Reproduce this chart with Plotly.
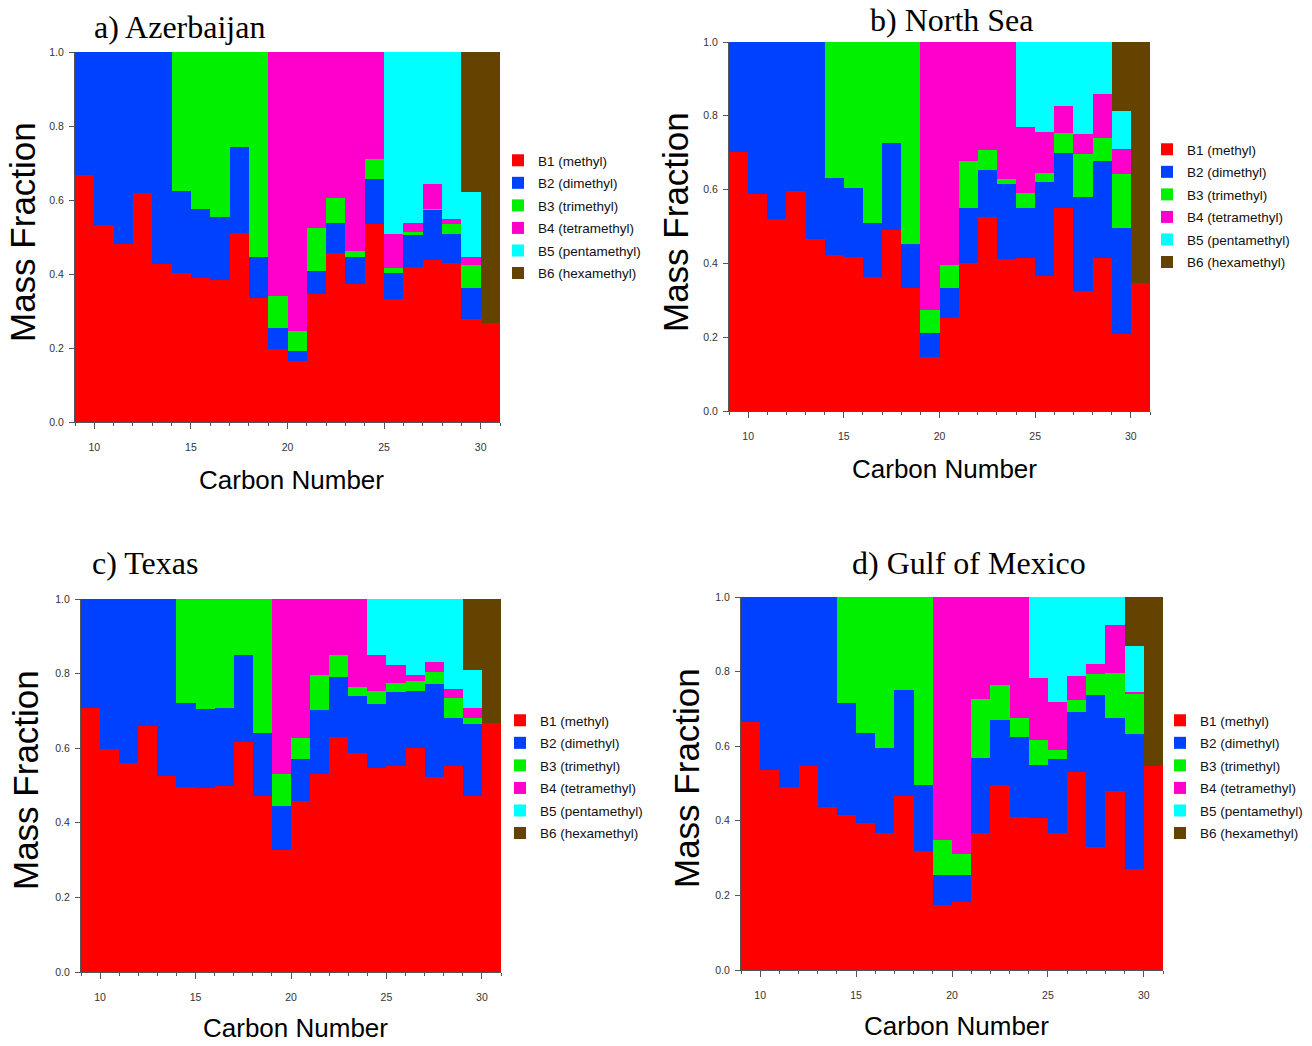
import plotly.graph_objects as go

# ---------------- data ----------------
carbon_number = list(range(10, 32))
series_names = ["B1 (methyl)", "B2 (dimethyl)", "B3 (trimethyl)",
                "B4 (tetramethyl)", "B5 (pentamethyl)", "B6 (hexamethyl)"]
series_colors = ["#FF0000", "#0040FF", "#00F000", "#FF00CC", "#00FFFF", "#644200"]
panel_titles = ["a) Azerbaijan", "b) North Sea", "c) Texas", "d) Gulf of Mexico"]
x_title = "Carbon Number"
y_title = "Mass Fraction"

# a) Azerbaijan
az_b1 = [.667, .532, .481, .620, .427, .402, .390, .384, .510, .335, .197, .165, .346, .456, .373, .535, .332, .420, .438, .429, .278, .267]
az_b2 = [.333, .468, .519, .380, .573, .222, .186, .170, .232, .112, .056, .027, .062, .081, .072, .123, .070, .085, .135, .079, .084, 0]
az_b3 = [0, 0, 0, 0, 0, .376, .424, .446, .258, .553, .088, .054, .117, .069, .018, .052, .013, .009, .004, .026, .061, 0]
az_b4 = [0, 0, 0, 0, 0, 0, 0, 0, 0, 0, .659, .754, .475, .394, .537, .290, .092, .023, .066, .016, .024, 0]
az_b5 = [0, 0, 0, 0, 0, 0, 0, 0, 0, 0, 0, 0, 0, 0, 0, 0, .493, .463, .357, .450, .175, 0]
az_b6 = [0, 0, 0, 0, 0, 0, 0, 0, 0, 0, 0, 0, 0, 0, 0, 0, 0, 0, 0, 0, .378, .733]

# b) North Sea
ns_b1 = [.702, .588, .520, .596, .465, .424, .418, .364, .490, .332, .147, .251, .400, .526, .412, .416, .366, .549, .326, .415, .210, .346]
ns_b2 = [.298, .412, .480, .404, .535, .208, .185, .146, .235, .120, .065, .083, .149, .127, .203, .135, .255, .149, .254, .262, .285, 0]
ns_b3 = [0, 0, 0, 0, 0, .368, .397, .490, .275, .548, .063, .063, .128, .055, .015, .040, .024, .056, .116, .064, .146, 0]
ns_b4 = [0, 0, 0, 0, 0, 0, 0, 0, 0, 0, .725, .603, .323, .292, .370, .179, .111, .072, .054, .119, .068, 0]
ns_b5 = [0, 0, 0, 0, 0, 0, 0, 0, 0, 0, 0, 0, 0, 0, 0, .230, .244, .174, .250, .140, .103, 0]
ns_b6 = [0, 0, 0, 0, 0, 0, 0, 0, 0, 0, 0, 0, 0, 0, 0, 0, 0, 0, 0, 0, .188, .654]

# c) Texas
tx_b1 = [.709, .598, .560, .660, .526, .495, .494, .499, .616, .473, .327, .458, .530, .629, .586, .546, .553, .600, .524, .551, .473, .667]
tx_b2 = [.291, .402, .440, .340, .474, .226, .211, .208, .234, .167, .119, .113, .173, .161, .154, .173, .199, .154, .248, .131, .191, 0]
tx_b3 = [0, 0, 0, 0, 0, .279, .295, .293, .150, .360, .084, .056, .094, .059, .024, .035, .022, .025, .032, .052, .018, 0]
tx_b4 = [0, 0, 0, 0, 0, 0, 0, 0, 0, 0, .470, .373, .203, .151, .236, .097, .050, .016, .027, .025, .025, 0]
tx_b5 = [0, 0, 0, 0, 0, 0, 0, 0, 0, 0, 0, 0, 0, 0, 0, .149, .176, .205, .169, .241, .103, 0]
tx_b6 = [0, 0, 0, 0, 0, 0, 0, 0, 0, 0, 0, 0, 0, 0, 0, 0, 0, 0, 0, 0, .190, .333]

# d) Gulf of Mexico
gm_b1 = [.664, .535, .490, .547, .436, .416, .394, .367, .467, .320, .173, .181, .367, .496, .410, .407, .367, .530, .329, .481, .270, .547]
gm_b2 = [.336, .465, .510, .453, .564, .301, .241, .228, .283, .175, .082, .074, .201, .175, .216, .143, .199, .161, .407, .194, .362, 0]
gm_b3 = [0, 0, 0, 0, 0, .283, .365, .405, .250, .505, .094, .055, .159, .094, .049, .067, .024, .034, .057, .121, .110, 0]
gm_b4 = [0, 0, 0, 0, 0, 0, 0, 0, 0, 0, .651, .690, .273, .235, .325, .167, .128, .062, .027, .130, .003, 0]
gm_b5 = [0, 0, 0, 0, 0, 0, 0, 0, 0, 0, 0, 0, 0, 0, 0, .216, .282, .213, .180, .074, .124, 0]
gm_b6 = [0, 0, 0, 0, 0, 0, 0, 0, 0, 0, 0, 0, 0, 0, 0, 0, 0, 0, 0, 0, .131, .453]

panel_data = [
    [az_b1, az_b2, az_b3, az_b4, az_b5, az_b6],
    [ns_b1, ns_b2, ns_b3, ns_b4, ns_b5, ns_b6],
    [tx_b1, tx_b2, tx_b3, tx_b4, tx_b5, tx_b6],
    [gm_b1, gm_b2, gm_b3, gm_b4, gm_b5, gm_b6],
]

# ---------------- layout geometry (pixels of the 1312x1046 page) ----------------
W, H = 1312, 1046
plot_boxes = [(75, 500, 52, 422), (729, 1150, 42, 411), (81, 501, 599, 972), (741, 1163, 597, 970)]
title_pos = [(92, 27), (868, 20), (90, 563), (850, 563)]
ylab_pos = [(22, 232), (675, 222), (25, 780), (686, 778)]
xlab_pos = [(291, 480), (944, 469), (295, 1028), (956, 1026)]
legend_pos = [(498, 145), (1147, 134), (500, 705), (1160, 705)]

SANS = "Liberation Sans, Arial, sans-serif"
SERIF = "Liberation Serif, Times New Roman, serif"


def px_x(p):
    return p / W


def px_y(p):
    return 1 - p / H


fig = go.Figure()
layout = dict(
    width=W, height=H,
    margin=dict(l=0, r=0, t=0, b=0, pad=0, autoexpand=False),
    paper_bgcolor="white", plot_bgcolor="white",
    barmode="stack", bargap=0, showlegend=True,
)
annotations = []

for i, series in enumerate(panel_data):
    sfx = "" if i == 0 else str(i + 1)
    legend_name = "legend" + sfx
    for name, vals, col in zip(series_names, series, series_colors):
        fig.add_trace(go.Bar(
            x=carbon_number, y=vals, name=name,
            marker=dict(color=col, line=dict(width=0)),
            width=1, offset=-1,
            xaxis="x" + sfx, yaxis="y" + sfx,
            legend=legend_name, legendgroup=name + sfx, showlegend=True,
        ))
    x0, x1, y0, y1 = plot_boxes[i]
    layout["xaxis" + sfx] = dict(
        domain=[px_x(x0), px_x(x1)], anchor="y" + sfx,
        range=[9, 31], tick0=10, dtick=5, ticks="outside", ticklen=6,
        tickcolor="#555", tickwidth=1, showline=True, linecolor="#555", linewidth=1,
        showgrid=False, zeroline=False, ticklabelstandoff=9,
        tickfont=dict(family=SANS, size=10.5, color="#333"),
        minor=dict(tick0=9, dtick=1, ticks="outside", ticklen=3, tickcolor="#555", showgrid=False),
        fixedrange=True,
    )
    layout["yaxis" + sfx] = dict(
        domain=[px_y(y1), px_y(y0)], anchor="x" + sfx,
        range=[0, 1], tick0=0, dtick=0.2, tickformat=".1f", ticks="outside", ticklen=5,
        tickcolor="#555", tickwidth=1, showline=True, linecolor="#555", linewidth=1,
        showgrid=False, zeroline=False, ticklabelstandoff=3,
        tickfont=dict(family=SANS, size=10.5, color="#333"),
        fixedrange=True,
    )
    lx, ly = legend_pos[i]
    layout[legend_name] = dict(
        x=px_x(lx), y=px_y(ly), xanchor="left", yanchor="top",
        xref="paper", yref="paper", traceorder="grouped",
        font=dict(family=SANS, size=13.5, color="#111"),
        bgcolor="rgba(0,0,0,0)", borderwidth=0, tracegroupgap=2,
    )
    tx, ty = title_pos[i]
    annotations.append(dict(text=panel_titles[i], x=px_x(tx), y=px_y(ty), xref="paper", yref="paper",
                            xanchor="left", yanchor="middle", showarrow=False,
                            font=dict(family=SERIF, size=32, color="black")))
    yx, yy = ylab_pos[i]
    annotations.append(dict(text=y_title, x=px_x(yx), y=px_y(yy), xref="paper", yref="paper",
                            xanchor="center", yanchor="middle", showarrow=False, textangle=-90,
                            font=dict(family=SANS, size=35, color="black")))
    xx, xy = xlab_pos[i]
    annotations.append(dict(text=x_title, x=px_x(xx), y=px_y(xy), xref="paper", yref="paper",
                            xanchor="center", yanchor="middle", showarrow=False,
                            font=dict(family=SANS, size=26, color="black")))

layout["annotations"] = annotations
fig.update_layout(**layout)

fig.write_html(
    "out.html",
    post_script=("document.documentElement.style.margin='0';"
                 "document.body.style.margin='0';"
                 "document.body.style.overflow='hidden';"),
    config={"displayModeBar": False},
)
